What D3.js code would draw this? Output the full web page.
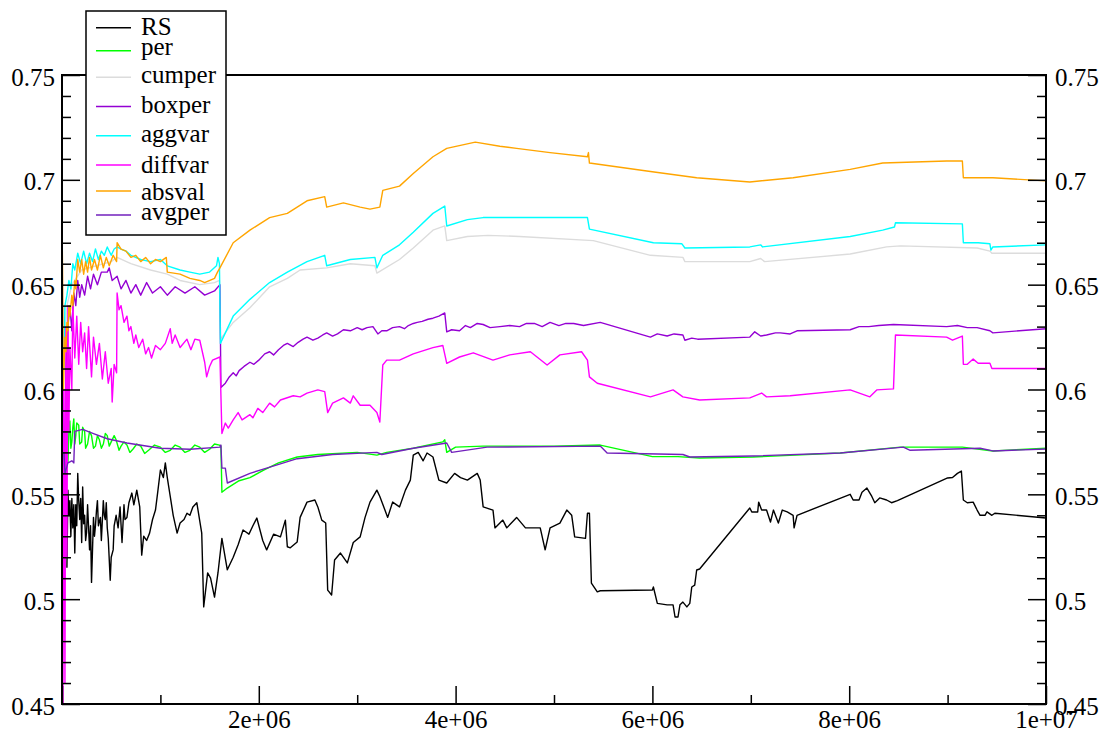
<!DOCTYPE html>
<html><head><meta charset="utf-8">
<script src="https://cdn.jsdelivr.net/npm/d3@7"></script>
<style>body{margin:0;background:#fff}</style>
</head><body>
<svg id="c" width="1101" height="734"></svg>
<script>
// x values in millions (scaled by X_UNIT), y values in data units
const X_UNIT = 1e6;
const xMajorTicks = [0, 2e6, 4e6, 6e6, 8e6, 1e7];
const xTickLabels = ["", "2e+06", "4e+06", "6e+06", "8e+06", "1e+07"];
const xMinorTicks = [1e6, 3e6, 5e6, 7e6, 9e6];
const yMajorTicks = [0.45, 0.5, 0.55, 0.6, 0.65, 0.7, 0.75];
const yTickLabels = ["0.45", "0.5", "0.55", "0.6", "0.65", "0.7", "0.75"];
const seriesNames = ["RS", "per", "cumper", "boxper", "aggvar", "diffvar", "absval", "avgper"];

const RS = [[0.05,0.515],[0.06,0.552],[0.07,0.540],[0.08,0.547],[0.09,0.530],[0.10,0.548],[0.11,0.534],[0.12,0.545],[0.13,0.522],[0.14,0.545],[0.15,0.535],[0.16,0.560],[0.17,0.547],[0.18,0.538],[0.19,0.548],[0.20,0.527],[0.21,0.5535],[0.22,0.536],[0.23,0.540],[0.24,0.528],[0.25,0.532],[0.26,0.545],[0.28,0.5235],[0.29,0.535],[0.30,0.508],[0.32,0.539],[0.33,0.530],[0.34,0.535],[0.35,0.542],[0.36,0.547],[0.37,0.535],[0.39,0.539],[0.40,0.528],[0.42,0.547],[0.43,0.540],[0.44,0.538],[0.45,0.546],[0.46,0.534],[0.47,0.529],[0.49,0.509],[0.50,0.520],[0.52,0.5235],[0.53,0.535],[0.55,0.540],[0.57,0.534],[0.59,0.544],[0.61,0.527],[0.63,0.545],[0.64,0.538],[0.66,0.539],[0.68,0.546],[0.71,0.5506],[0.73,0.545],[0.76,0.552],[0.79,0.544],[0.81,0.521],[0.83,0.530],[0.86,0.528],[0.89,0.5315],[0.92,0.538],[0.95,0.5425],[0.97,0.550],[1.00,0.5616],[1.03,0.558],[1.05,0.565],[1.07,0.558],[1.10,0.549],[1.13,0.540],[1.17,0.5315],[1.20,0.5363],[1.24,0.538],[1.27,0.541],[1.30,0.540],[1.33,0.544],[1.37,0.546],[1.42,0.5315],[1.44,0.4963],[1.48,0.5125],[1.51,0.510],[1.55,0.501],[1.585,0.5125],[1.625,0.529],[1.68,0.514],[1.74,0.520],[1.79,0.526],[1.84,0.533],[1.90,0.531],[1.94,0.535],[1.98,0.5387],[2.04,0.528],[2.08,0.5235],[2.15,0.531],[2.22,0.5297],[2.27,0.5377],[2.29,0.525],[2.32,0.5245],[2.39,0.5273],[2.42,0.539],[2.49,0.5463],[2.57,0.5473],[2.60,0.544],[2.64,0.5377],[2.68,0.5363],[2.70,0.5043],[2.74,0.502],[2.77,0.5187],[2.83,0.522],[2.90,0.5173],[2.96,0.527],[3.03,0.5297],[3.08,0.539],[3.13,0.5463],[3.20,0.552],[3.23,0.549],[3.31,0.539],[3.36,0.5463],[3.43,0.544],[3.49,0.552],[3.54,0.5568],[3.57,0.5687],[3.62,0.570],[3.67,0.566],[3.71,0.5697],[3.77,0.5678],[3.83,0.5568],[3.91,0.5554],[3.99,0.560],[4.05,0.558],[4.12,0.5568],[4.22,0.560],[4.25,0.5568],[4.28,0.544],[4.38,0.5425],[4.40,0.534],[4.48,0.5377],[4.52,0.534],[4.62,0.539],[4.71,0.534],[4.86,0.534],[4.91,0.5235],[4.96,0.534],[5.06,0.5363],[5.13,0.5425],[5.18,0.540],[5.21,0.5297],[5.32,0.529],[5.34,0.541],[5.36,0.541],[5.38,0.5077],[5.44,0.5035],[5.47,0.504],[6.00,0.5044],[6.01,0.5058],[6.05,0.498],[6.15,0.4973],[6.21,0.4973],[6.23,0.4915],[6.26,0.4915],[6.28,0.4973],[6.31,0.4986],[6.35,0.4963],[6.38,0.498],[6.40,0.5058],[6.43,0.5067],[6.45,0.5139],[6.48,0.5144],[6.99,0.5435],[7.01,0.5416],[7.07,0.5416],[7.08,0.5463],[7.11,0.5425],[7.16,0.5425],[7.20,0.5368],[7.23,0.5425],[7.28,0.5363],[7.32,0.5425],[7.37,0.5416],[7.43,0.540],[7.44,0.534],[7.47,0.540],[8.01,0.550],[8.04,0.5473],[8.10,0.5473],[8.13,0.551],[8.18,0.553],[8.23,0.549],[8.26,0.546],[8.31,0.5483],[8.38,0.5473],[8.43,0.546],[8.49,0.547],[9.00,0.5578],[9.05,0.558],[9.10,0.560],[9.14,0.5611],[9.16,0.5473],[9.20,0.546],[9.26,0.5463],[9.30,0.5425],[9.33,0.540],[9.38,0.540],[9.40,0.5416],[9.45,0.540],[9.48,0.541],[10,0.5387]];

const per = [[0.06,0.565],[0.07,0.580],[0.08,0.585],[0.09,0.572],[0.10,0.575],[0.11,0.582],[0.12,0.586],[0.13,0.574],[0.14,0.578],[0.15,0.584],[0.17,0.583],[0.18,0.574],[0.20,0.575],[0.21,0.582],[0.23,0.580],[0.24,0.572],[0.26,0.574],[0.28,0.580],[0.30,0.578],[0.32,0.572],[0.34,0.573],[0.36,0.578],[0.38,0.576],[0.40,0.572],[0.42,0.574],[0.44,0.579],[0.46,0.578],[0.48,0.573],[0.50,0.575],[0.53,0.578],[0.55,0.576],[0.58,0.571],[0.60,0.573],[0.63,0.575],[0.66,0.5735],[0.69,0.570],[0.72,0.5715],[0.76,0.574],[0.80,0.573],[0.84,0.5695],[0.88,0.571],[0.94,0.5735],[1.00,0.5725],[1.05,0.570],[1.10,0.571],[1.15,0.5735],[1.20,0.5725],[1.25,0.570],[1.30,0.571],[1.35,0.5735],[1.40,0.5725],[1.45,0.570],[1.50,0.5715],[1.55,0.574],[1.60,0.5735],[1.615,0.573],[1.625,0.551],[1.68,0.553],[1.80,0.5565],[1.91,0.558],[2.05,0.5615],[2.20,0.565],[2.39,0.5678],[2.60,0.569],[2.80,0.5695],[3.00,0.570],[3.20,0.5687],[3.30,0.570],[3.57,0.572],[3.87,0.575],[3.89,0.576],[3.91,0.570],[4.00,0.5725],[4.28,0.573],[4.60,0.573],[5.00,0.573],[5.47,0.5735],[6.00,0.568],[6.26,0.568],[6.48,0.5673],[7.02,0.5678],[7.91,0.5697],[8.52,0.5725],[9.15,0.5725],[9.46,0.5707],[10,0.572]];

const cumper = [[0,0.60],[0.02,0.615],[0.05,0.640],[0.10,0.650],[0.20,0.657],[0.35,0.659],[0.50,0.661],[0.56,0.663],[0.70,0.660],[0.90,0.657],[1.07,0.655],[1.20,0.652],[1.40,0.650],[1.55,0.651],[1.60,0.652],[1.61,0.624],[1.74,0.632],[1.91,0.639],[2.11,0.649],[2.29,0.653],[2.42,0.657],[2.69,0.658],[2.93,0.660],[3.18,0.659],[3.20,0.6555],[3.43,0.662],[3.57,0.6675],[3.77,0.676],[3.89,0.678],[3.91,0.671],[4.12,0.673],[4.33,0.6735],[4.65,0.673],[5.40,0.671],[5.98,0.664],[6.31,0.663],[6.33,0.661],[6.99,0.661],[7.10,0.6625],[7.14,0.661],[8.01,0.6646],[8.38,0.668],[8.52,0.6685],[9.30,0.6675],[9.43,0.666],[9.45,0.665],[10,0.665]];

const boxper = [[0.00,0.713],[0.005,0.63],[0.01,0.60],[0.02,0.57],[0.03,0.575],[0.04,0.61],[0.06,0.63],[0.08,0.64],[0.10,0.628],[0.12,0.646],[0.14,0.64],[0.16,0.652],[0.18,0.644],[0.20,0.650],[0.23,0.645],[0.26,0.654],[0.29,0.648],[0.32,0.655],[0.36,0.650],[0.40,0.656],[0.46,0.656],[0.48,0.658],[0.51,0.652],[0.56,0.654],[0.60,0.648],[0.65,0.652],[0.70,0.646],[0.75,0.650],[0.80,0.645],[0.86,0.651],[0.92,0.646],[1.00,0.649],[1.07,0.645],[1.15,0.649],[1.25,0.646],[1.35,0.649],[1.45,0.645],[1.55,0.647],[1.605,0.650],[1.615,0.601],[1.66,0.603],[1.70,0.606],[1.74,0.608],[1.77,0.6065],[1.80,0.609],[1.85,0.611],[1.91,0.613],[1.95,0.612],[2.00,0.614],[2.06,0.617],[2.11,0.618],[2.15,0.6165],[2.20,0.619],[2.25,0.621],[2.29,0.622],[2.35,0.6205],[2.40,0.6225],[2.45,0.624],[2.49,0.625],[2.55,0.6235],[2.60,0.6245],[2.65,0.626],[2.69,0.627],[2.75,0.6255],[2.80,0.6265],[2.86,0.6285],[2.93,0.628],[3.00,0.6295],[3.05,0.6285],[3.10,0.6295],[3.16,0.630],[3.21,0.6265],[3.25,0.628],[3.30,0.628],[3.36,0.6295],[3.43,0.630],[3.48,0.629],[3.52,0.6305],[3.57,0.6315],[3.61,0.632],[3.66,0.6325],[3.72,0.6335],[3.77,0.634],[3.83,0.635],[3.89,0.6365],[3.91,0.6275],[3.96,0.6285],[4.04,0.628],[4.10,0.6305],[4.15,0.6295],[4.22,0.6315],[4.28,0.631],[4.35,0.6295],[4.45,0.630],[4.55,0.6305],[4.65,0.630],[4.72,0.6315],[4.80,0.6315],[4.88,0.630],[4.96,0.632],[5.05,0.6305],[5.12,0.6315],[5.20,0.6315],[5.30,0.6305],[5.47,0.632],[5.98,0.625],[6.05,0.6265],[6.15,0.6255],[6.22,0.6265],[6.31,0.626],[6.33,0.6235],[6.40,0.6245],[6.46,0.624],[6.99,0.625],[7.04,0.6275],[7.10,0.6255],[7.16,0.626],[7.25,0.627],[7.30,0.627],[7.40,0.6265],[7.47,0.628],[8.01,0.6285],[8.10,0.630],[8.20,0.630],[8.30,0.6305],[8.45,0.631],[8.99,0.630],[9.10,0.6305],[9.20,0.6295],[9.30,0.6295],[9.43,0.628],[9.46,0.627],[10,0.629]];

const aggvar = [[0,0.60],[0.01,0.62],[0.02,0.61],[0.03,0.64],[0.05,0.645],[0.07,0.652],[0.09,0.648],[0.11,0.660],[0.13,0.657],[0.16,0.665],[0.19,0.660],[0.22,0.666],[0.25,0.660],[0.28,0.665],[0.31,0.661],[0.34,0.667],[0.37,0.662],[0.40,0.666],[0.43,0.664],[0.46,0.668],[0.50,0.664],[0.53,0.667],[0.56,0.668],[0.60,0.667],[0.65,0.666],[0.70,0.664],[0.80,0.662],[0.90,0.661],[1.00,0.662],[1.07,0.659],[1.20,0.657],[1.30,0.656],[1.40,0.655],[1.50,0.656],[1.57,0.659],[1.585,0.663],[1.60,0.660],[1.61,0.622],[1.74,0.635],[1.91,0.643],[2.11,0.651],[2.29,0.656],[2.49,0.661],[2.67,0.664],[2.69,0.659],[2.93,0.662],[3.18,0.663],[3.20,0.658],[3.26,0.664],[3.43,0.669],[3.57,0.675],[3.77,0.684],[3.89,0.6875],[3.91,0.678],[4.12,0.681],[4.28,0.682],[4.62,0.682],[5.34,0.682],[5.36,0.6765],[6.01,0.670],[6.30,0.6695],[6.33,0.6675],[6.99,0.668],[7.10,0.669],[7.12,0.668],[8.01,0.673],[8.34,0.676],[8.46,0.6775],[8.47,0.6795],[9.15,0.679],[9.16,0.670],[9.31,0.670],[9.43,0.6695],[9.44,0.6665],[9.46,0.668],[10,0.669]];

const diffvar = [[0.00,0.45],[0.005,0.62],[0.01,0.45],[0.02,0.60],[0.03,0.46],[0.04,0.63],[0.05,0.52],[0.06,0.64],[0.07,0.58],[0.08,0.62],[0.10,0.60],[0.11,0.64],[0.13,0.615],[0.15,0.635],[0.17,0.612],[0.19,0.632],[0.21,0.618],[0.23,0.627],[0.25,0.61],[0.27,0.63],[0.30,0.606],[0.32,0.625],[0.35,0.612],[0.38,0.622],[0.41,0.605],[0.44,0.618],[0.47,0.603],[0.50,0.610],[0.51,0.594],[0.53,0.612],[0.555,0.608],[0.56,0.646],[0.58,0.638],[0.60,0.640],[0.63,0.632],[0.66,0.635],[0.68,0.628],[0.70,0.630],[0.73,0.622],[0.75,0.626],[0.78,0.620],[0.82,0.624],[0.85,0.617],[0.88,0.620],[0.91,0.615],[0.95,0.621],[1.00,0.619],[1.05,0.622],[1.10,0.629],[1.12,0.622],[1.15,0.626],[1.20,0.620],[1.27,0.624],[1.31,0.619],[1.35,0.624],[1.40,0.6235],[1.45,0.613],[1.47,0.606],[1.50,0.611],[1.53,0.614],[1.605,0.6155],[1.625,0.579],[1.66,0.584],[1.69,0.5816],[1.74,0.5855],[1.79,0.589],[1.83,0.5855],[1.91,0.588],[1.94,0.5865],[1.99,0.591],[2.04,0.589],[2.11,0.5935],[2.16,0.5917],[2.22,0.595],[2.35,0.597],[2.42,0.5965],[2.49,0.5983],[2.60,0.5998],[2.67,0.599],[2.70,0.589],[2.75,0.5935],[2.86,0.596],[2.93,0.5935],[2.96,0.597],[3.03,0.5925],[3.13,0.5925],[3.20,0.589],[3.23,0.5845],[3.26,0.6117],[3.30,0.614],[3.43,0.614],[3.57,0.617],[3.77,0.620],[3.87,0.621],[3.91,0.6125],[4.04,0.6155],[4.18,0.6175],[4.38,0.614],[4.55,0.6165],[4.76,0.618],[4.93,0.6117],[5.06,0.6165],[5.28,0.618],[5.34,0.614],[5.36,0.606],[5.44,0.603],[5.98,0.5965],[6.21,0.5998],[6.31,0.5965],[6.48,0.595],[6.99,0.596],[7.11,0.5983],[7.16,0.5965],[7.40,0.597],[8.01,0.5998],[8.21,0.5965],[8.28,0.5998],[8.45,0.6003],[8.47,0.626],[8.99,0.625],[9.05,0.6235],[9.15,0.6255],[9.16,0.612],[9.20,0.612],[9.26,0.6145],[9.31,0.6125],[9.43,0.6125],[9.45,0.610],[10,0.610]];

const absval = [[0,0.680],[0.005,0.66],[0.01,0.625],[0.015,0.60],[0.02,0.61],[0.03,0.625],[0.04,0.618],[0.05,0.632],[0.06,0.628],[0.07,0.640],[0.08,0.635],[0.10,0.645],[0.11,0.640],[0.13,0.652],[0.14,0.648],[0.16,0.662],[0.18,0.656],[0.20,0.662],[0.22,0.655],[0.24,0.661],[0.26,0.656],[0.28,0.663],[0.30,0.657],[0.33,0.662],[0.36,0.657],[0.39,0.664],[0.42,0.658],[0.45,0.663],[0.48,0.659],[0.52,0.664],[0.555,0.661],[0.56,0.670],[0.60,0.667],[0.65,0.666],[0.70,0.663],[0.75,0.664],[0.80,0.661],[0.85,0.663],[0.90,0.660],[0.95,0.662],[1.00,0.661],[1.06,0.663],[1.07,0.656],[1.20,0.655],[1.30,0.653],[1.40,0.652],[1.45,0.651],[1.55,0.653],[1.58,0.656],[1.605,0.658],[1.74,0.670],[1.91,0.676],[2.11,0.682],[2.29,0.684],[2.49,0.690],[2.67,0.692],[2.69,0.687],[2.86,0.689],[3.03,0.687],[3.13,0.686],[3.23,0.687],[3.26,0.695],[3.43,0.697],[3.57,0.703],[3.77,0.711],[3.91,0.715],[4.20,0.718],[4.45,0.716],[4.62,0.715],[4.96,0.713],[5.34,0.711],[5.35,0.713],[5.36,0.708],[5.98,0.704],[6.45,0.701],[6.99,0.699],[7.43,0.701],[8.01,0.705],[8.34,0.708],[8.99,0.709],[9.15,0.709],[9.16,0.701],[9.46,0.701],[10,0.6995]];

const avgper = [[0.02,0.57],[0.03,0.56],[0.06,0.565],[0.10,0.566],[0.12,0.565],[0.13,0.580],[0.21,0.581],[0.32,0.579],[0.46,0.5765],[0.66,0.5745],[1.00,0.572],[1.30,0.5715],[1.605,0.5725],[1.615,0.5735],[1.625,0.5625],[1.66,0.5625],[1.68,0.5554],[1.91,0.560],[2.08,0.5625],[2.39,0.567],[2.75,0.569],[3.20,0.570],[3.25,0.569],[3.57,0.572],[3.91,0.5745],[3.96,0.570],[4.32,0.5725],[5.47,0.573],[5.54,0.5697],[6.31,0.569],[6.38,0.5678],[7.02,0.5683],[7.91,0.5697],[8.55,0.5725],[8.62,0.571],[9.33,0.572],[9.46,0.5707],[10,0.5716]];

const seriesData = [RS, per, cumper, boxper, aggvar, diffvar, absval, avgper];
const seriesColors = ["#000000", "#00ff00", "#dcdcdc", "#9400d3", "#00ffff", "#ff00ff", "#ffa500", "#7221bc"];

// layout
const L = 62, R = 1046, T = 75, B = 704;
const FONT = "\"Times New Roman\"";
const FSIZE = "25px";

const svg = d3.select("#c");
const x = d3.scaleLinear().domain([0, 1e7]).range([L, R]);
const y = d3.scaleLinear().domain([0.45, 0.75]).range([B, T]);

svg.append("defs").append("clipPath").attr("id", "clip")
  .append("rect").attr("x", L).attr("y", T).attr("width", R - L).attr("height", B - T);

const line = d3.line().x(d => x(d[0] * X_UNIT)).y(d => y(d[1]));
const g = svg.append("g").attr("clip-path", "url(#clip)");
seriesData.forEach((data, i) => {
  g.append("path").datum(data)
    .attr("fill", "none")
    .attr("stroke", seriesColors[i])
    .attr("stroke-width", 1.4)
    .attr("stroke-linejoin", "round")
    .attr("d", line);
});

const yMinor = d3.range(46, 75).filter(v => v % 5 !== 0).map(v => v / 100);

function styleAxis(sel) {
  sel.attr("font-family", null).attr("font-size", null);
  sel.select(".domain").remove();
  sel.selectAll("line").attr("stroke", "#000").attr("stroke-width", 1.5);
  sel.selectAll("text").style("font-family", FONT).style("font-size", FSIZE).attr("fill", "#000");
}

svg.append("g").attr("transform", `translate(0,${B})`)
  .call(d3.axisBottom(x).tickValues(xMajorTicks).tickSize(-18).tickPadding(6)
    .tickFormat((d, i) => xTickLabels[i]))
  .call(styleAxis);
svg.append("g").attr("transform", `translate(0,${B})`)
  .call(d3.axisBottom(x).tickValues(xMinorTicks).tickSize(-9).tickFormat(""))
  .call(styleAxis);

svg.append("g").attr("transform", `translate(${L},0)`)
  .call(d3.axisLeft(y).tickValues(yMajorTicks).tickSize(-18).tickPadding(7)
    .tickFormat((d, i) => yTickLabels[i]))
  .call(styleAxis)
  .selectAll("text").attr("dy", "0.4em");
svg.append("g").attr("transform", `translate(${L},0)`)
  .call(d3.axisLeft(y).tickValues(yMinor).tickSize(-9).tickFormat(""))
  .call(styleAxis);

svg.append("g").attr("transform", `translate(${R},0)`)
  .call(d3.axisRight(y).tickValues(yMajorTicks).tickSize(-18).tickPadding(9)
    .tickFormat((d, i) => yTickLabels[i]))
  .call(styleAxis)
  .selectAll("text").attr("dy", "0.4em");
svg.append("g").attr("transform", `translate(${R},0)`)
  .call(d3.axisRight(y).tickValues(yMinor).tickSize(-9).tickFormat(""))
  .call(styleAxis);

svg.append("rect").attr("x", L).attr("y", T).attr("width", R - L).attr("height", B - T)
  .attr("fill", "none").attr("stroke", "#000").attr("stroke-width", 2);

const legLineY = [27.7, 50.7, 77.3, 106.5, 135.7, 165, 191, 215];
const legTextY = [35, 55, 83, 113, 142, 173, 200, 220];
const leg = svg.append("g");
leg.append("rect").attr("x", 86).attr("y", 11).attr("width", 140).attr("height", 224)
  .attr("fill", "#fff").attr("stroke", "#000").attr("stroke-width", 1.5);
seriesNames.forEach((name, i) => {
  leg.append("line").attr("x1", 96).attr("x2", 131)
    .attr("y1", legLineY[i]).attr("y2", legLineY[i])
    .attr("stroke", seriesColors[i]).attr("stroke-width", 1.5);
  leg.append("text").attr("x", 141).attr("y", legTextY[i])
    .style("font-family", FONT).style("font-size", FSIZE).attr("fill", "#000")
    .text(name);
});
</script>
</body></html>
